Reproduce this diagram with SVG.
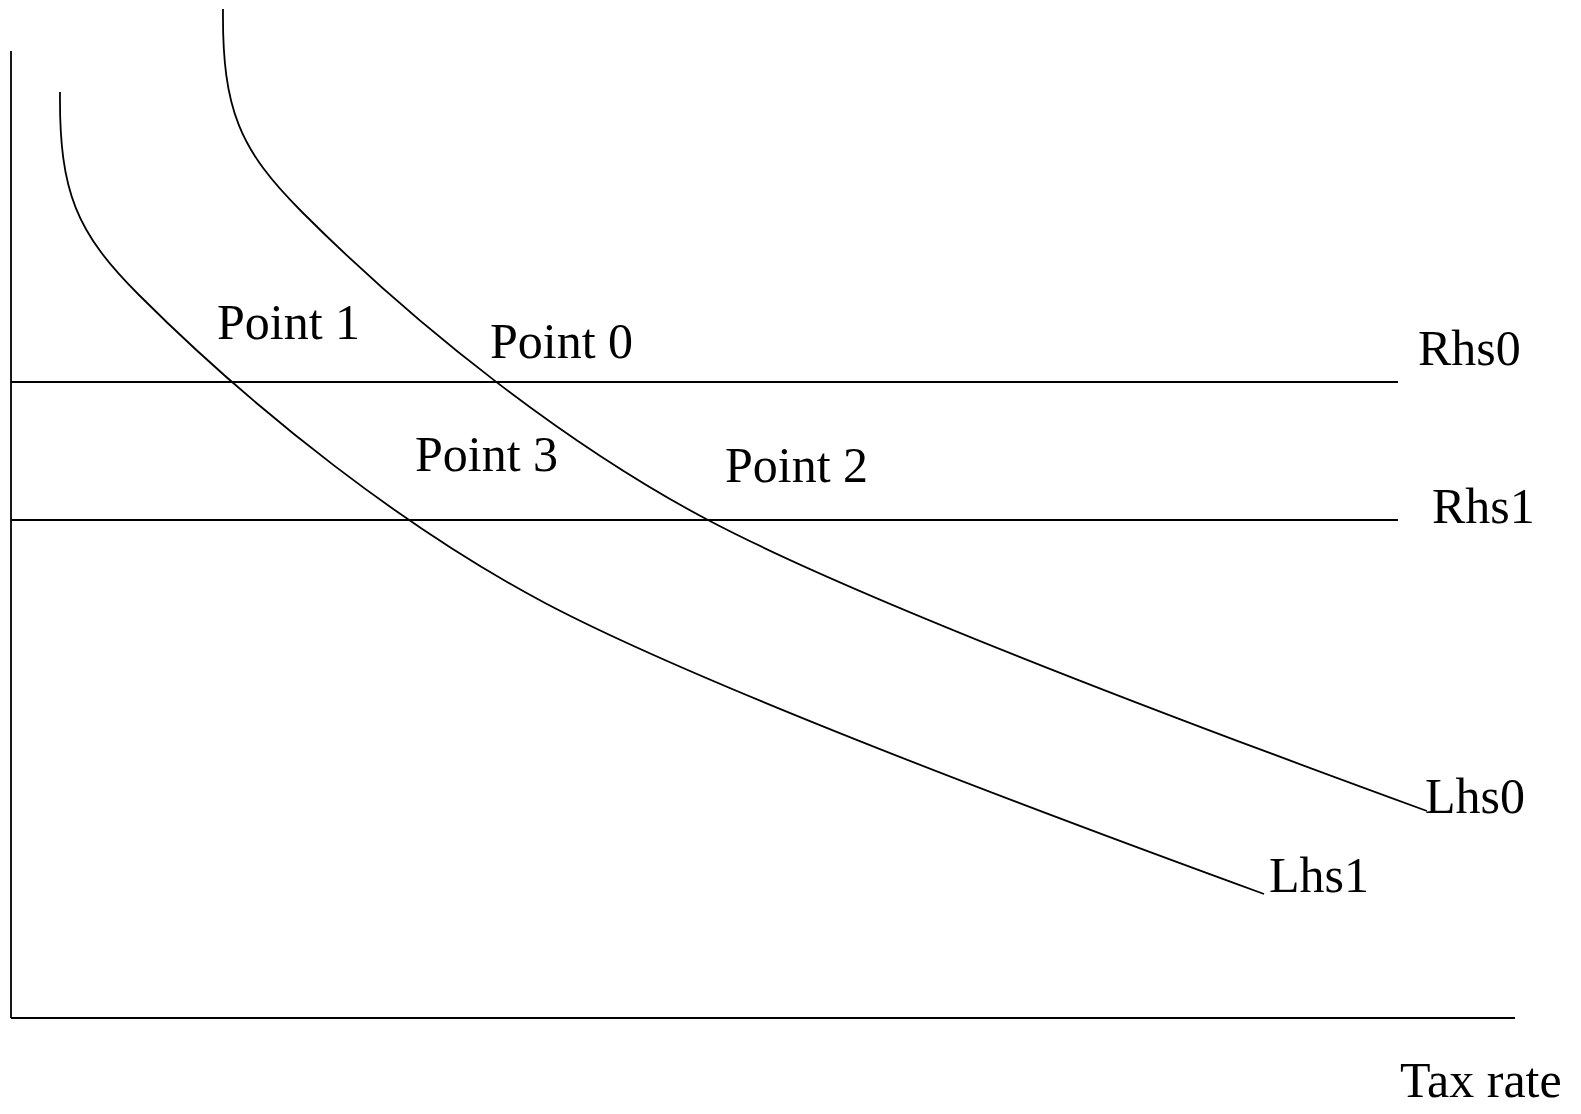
<svg xmlns="http://www.w3.org/2000/svg" xmlns:xlink="http://www.w3.org/1999/xlink" width="1581" height="1114" viewBox="0 0 1581 1114">
<style>
.ln{fill:none;stroke:#000;stroke-width:1.8}
.lb{font-family:"Liberation Serif","Times New Roman",serif;font-size:50px;fill:#000}
</style>
<defs>
<path id="lhs" d="M223,9 C222,110 240,150 302,212 C420,330 570,447 708,520 C850,595 1150,710 1427,811"/>
</defs>
<rect width="1581" height="1114" fill="#fff"/>
<g id="connectors">
<path id="axis-y" class="ln" d="M11,51 V1018"/>
<path id="axis-x" class="ln" d="M11,1018 H1515"/>
<path id="rhs0-line" class="ln" d="M11,382 H1398"/>
<path id="rhs1-line" class="ln" d="M11,520 H1398"/>
<use id="lhs0-curve" class="ln" xlink:href="#lhs"/>
<use id="lhs1-curve" class="ln" xlink:href="#lhs" transform="translate(-163,83)"/>
</g>
<g id="point1"><text class="lb" x="217" y="339">Point 1</text></g>
<g id="point0"><text class="lb" x="490" y="358">Point 0</text></g>
<g id="point3"><text class="lb" x="415" y="471">Point 3</text></g>
<g id="point2"><text class="lb" x="725" y="482">Point 2</text></g>
<g id="rhs0"><text class="lb" x="1418" y="365">Rhs0</text></g>
<g id="rhs1"><text class="lb" x="1432" y="523">Rhs1</text></g>
<g id="lhs0"><text class="lb" x="1425" y="813">Lhs0</text></g>
<g id="lhs1"><text class="lb" x="1269" y="892">Lhs1</text></g>
<g id="taxrate"><text class="lb" x="1400" y="1097">Tax rate</text></g>
</svg>
